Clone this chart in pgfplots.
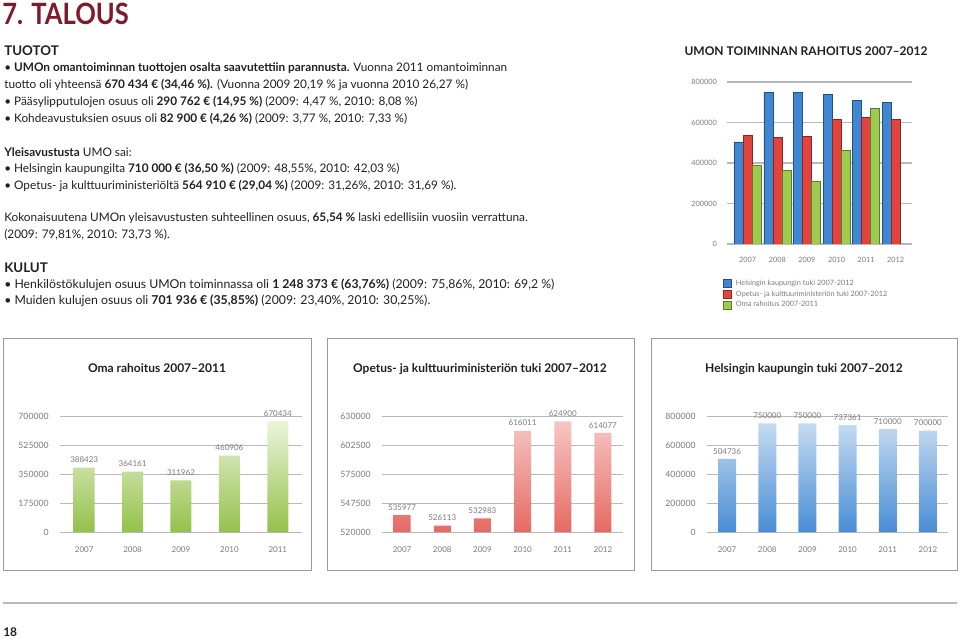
\documentclass[border=0pt]{standalone}
\usepackage{pgfplots}
\pgfplotsset{compat=1.18}
\usepackage{fontspec}
\setmainfont{Lato}
\definecolor{talous}{HTML}{7E1A2B}
\definecolor{txt}{HTML}{231F20}
\definecolor{ticktxt}{HTML}{7A7A7A}
\definecolor{gridc}{HTML}{B8B8B8}
\definecolor{boxc}{HTML}{9A9A9A}
\definecolor{hblue}{HTML}{3F87D2}
\definecolor{ored}{HTML}{E0443C}
\definecolor{ogreen}{HTML}{9CCB4F}
\newcommand\body{\fontsize{8.85}{11}\selectfont}
\pgfplotsset{
  smallchart/.style={
    scale only axis, height=87pt,
    axis lines*=left,
    y axis line style={draw=none},
    x axis line style={draw=gridc, line width=0.6pt},
    ymajorgrids, grid style={draw=gridc, line width=0.6pt},
    ytick style={draw=none}, xtick style={draw=none},
    xtick=data,
    scaled y ticks=false,
    /pgf/number format/assume math mode=true,
    /pgf/number format/fixed, /pgf/number format/1000 sep={},
    yticklabel style={font=\fontsize{6.5}{7}\selectfont, text=ticktxt, xshift=-5pt},
    xticklabel style={font=\fontsize{6}{7}\selectfont, text=ticktxt, yshift=-3pt},
    ybar, bar width=#1,
    point meta=explicit symbolic,
    nodes near coords,
    nodes near coords style={font=\fontsize{6}{7}\selectfont, text=ticktxt},
    extra x tick style={major tick length=2pt, tick style={draw=gridc}},
    extra x tick labels={},
  }
}
\begin{document}
\begin{tikzpicture}[x=0.75pt,y=-0.75pt]
\path[use as bounding box] (0,0) rectangle (960,639);
% ---------- text ----------
\node[anchor=base west, inner sep=0, text=talous, font=\fontsize{22}{24}\selectfont\bfseries] at (2,24) {\scalebox{0.87}[1]{7. TALOUS}};
\begin{scope}[every node/.style={anchor=base west, inner sep=0, text=txt, font=\body}]
\node[font=\fontsize{10}{12}\selectfont\bfseries] at (4,55) {TUOTOT};
\node at (4,71) {• \textbf{UMOn omantoiminnan tuottojen osalta saavutettiin parannusta.} Vuonna 2011 omantoiminnan};
\node at (4,88) {tuotto oli yhteensä \textbf{670 434 € (34,46 \%).} (Vuonna 2009 20,19 \% ja vuonna 2010 26,27 \%)};
\node at (4,105) {• Pääsylipputulojen osuus oli \textbf{290 762 € (14,95 \%)} (2009: 4,47 \%, 2010: 8,08 \%)};
\node at (4,122) {• Kohdeavustuksien osuus oli \textbf{82 900 € (4,26 \%)} (2009: 3,77 \%, 2010: 7,33 \%)};
\node at (4,156) {\textbf{Yleisavustusta} UMO sai:};
\node at (4,172) {• Helsingin kaupungilta \textbf{710 000 € (36,50 \%)} (2009: 48,55\%, 2010: 42,03 \%)};
\node at (4,189) {• Opetus- ja kulttuuriministeriöltä \textbf{564 910 € (29,04 \%)} (2009: 31,26\%, 2010: 31,69 \%).};
\node at (4,221) {Kokonaisuutena UMOn yleisavustusten suhteellinen osuus, \textbf{65,54 \%} laski edellisiin vuosiin verrattuna.};
\node at (4,238) {(2009: 79,81\%, 2010: 73,73 \%).};
\node[font=\fontsize{10}{12}\selectfont\bfseries] at (4,272) {KULUT};
\node[font=\fontsize{9.2}{11}\selectfont] at (4,288) {• Henkilöstökulujen osuus UMOn toiminnassa oli \textbf{1 248 373 € (63,76\%)} (2009: 75,86\%, 2010: 69,2 \%)};
\node[font=\fontsize{9.2}{11}\selectfont] at (4,304) {• Muiden kulujen osuus oli \textbf{701 936 € (35,85\%)} (2009: 23,40\%, 2010: 30,25\%).};
\node[font=\fontsize{9}{11}\selectfont\bfseries] at (3,636) {18};
\end{scope}
\node[anchor=base, inner sep=0, text=txt, font=\fontsize{9}{11}\selectfont\bfseries] at (806,55) {UMON TOIMINNAN RAHOITUS 2007–2012};
% ---------- boxes ----------
\draw[boxc, line width=0.7pt] (3,338) rectangle (311,570);
\draw[boxc, line width=0.7pt] (327,338) rectangle (634,570);
\draw[boxc, line width=0.7pt] (651,338) rectangle (957,570);
\draw[gridc, line width=1pt] (3,603) -- (957,603);
\begin{scope}[every node/.style={anchor=base, inner sep=0, text=txt, font=\fontsize{9}{11}\selectfont\bfseries}]
\node at (157,372) {Oma rahoitus 2007–2011};
\node at (480,372) {Opetus- ja kulttuuriministeriön tuki 2007–2012};
\node at (804,372) {Helsingin kaupungin tuki 2007–2012};
\end{scope}
\coordinate (T) at (727,82);
\coordinate (A) at (60,416);
\coordinate (B) at (382,416);
\coordinate (C) at (707,416);
% ---------- top chart ----------
\begin{axis}[at={(T)}, anchor=north west, scale only axis,
  width=138.75pt, height=121.5pt,
  xmin=-0.7, xmax=5.55, ymin=0, ymax=800000,
  axis line style={draw=none}, tick style={draw=none},
  ymajorgrids, grid style={draw=gridc, line width=1pt},
  ytick={0,200000,400000,600000,800000},
  scaled y ticks=false,
  /pgf/number format/assume math mode=true,
  /pgf/number format/fixed, /pgf/number format/1000 sep={},
  yticklabel style={font=\fontsize{5.5}{6}\selectfont, text=ticktxt, xshift=-4pt},
  xtick={0,1,2,3,4,5}, xticklabels={2007,2008,2009,2010,2011,2012},
  xticklabel style={font=\fontsize{5.5}{6}\selectfont, text=ticktxt, yshift=-2pt},
  ybar=0pt, bar width=6.75pt,
  legend style={at={(-0.025,-0.21)}, anchor=north west, draw=none, fill=none,
    font=\fontsize{5.5}{6}\selectfont, text=ticktxt, row sep=0.4pt, column sep=2.5pt,
    inner sep=0pt, nodes={inner sep=1.1pt}},
  legend cell align=left,
  legend image code/.code={\fill[#1] (0pt,-2.8pt) rectangle (6pt,2.8pt);},
]
\addplot[fill=hblue, draw=hblue!60!black] coordinates {(0,504736) (1,750000) (2,750000) (3,737361) (4,710000) (5,700000)};
\addplot[fill=ored, draw=ored!60!black] coordinates {(0,535977) (1,526113) (2,532983) (3,616011) (4,624900) (5,614077)};
\addplot[fill=ogreen, draw=ogreen!60!black] coordinates {(0,388423) (1,364161) (2,311962) (3,460906) (4,670434)};
\legend{Helsingin kaupungin tuki 2007-2012, Opetus- ja kulttuuriministeriön tuki 2007-2012, Oma rahoitus 2007-2011}
\end{axis}
% ---------- chart 1 ----------
\begin{axis}[at={(A)}, anchor=north west, smallchart=15.75pt, width=181.5pt,
  xmin=-0.5, xmax=4.5, ymin=0, ymax=700000,
  ytick={0,175000,350000,525000,700000},
  xticklabels={2007,2008,2009,2010,2011},
  extra x ticks={-0.5,0.5,1.5,2.5,3.5,4.5}]
\addplot[draw=none, top color=ogreen!20, bottom color=ogreen!95!black] coordinates {(0,388423) [388423] (1,364161) [364161] (2,311962) [311962] (3,460906) [460906] (4,670434) [670434]};
\end{axis}
% ---------- chart 2 ----------
\begin{axis}[at={(B)}, anchor=north west, smallchart=12.75pt, width=180.75pt,
  xmin=-0.5, xmax=5.5, ymin=520000, ymax=630000,
  ytick={520000,547500,575000,602500,630000},
  xticklabels={2007,2008,2009,2010,2011,2012},
  extra x ticks={-0.5,0.5,1.5,2.5,3.5,4.5,5.5}]
\addplot[draw=none, top color=ored!30, bottom color=ored!80] coordinates {(0,535977) [535977] (1,526113) [526113] (2,532983) [532983] (3,616011) [616011] (4,624900) [624900] (5,614077) [614077]};
\end{axis}
% ---------- chart 3 ----------
\begin{axis}[at={(C)}, anchor=north west, smallchart=13.5pt, width=180.75pt,
  xmin=-0.5, xmax=5.5, ymin=0, ymax=800000,
  ytick={0,200000,400000,600000,800000},
  xticklabels={2007,2008,2009,2010,2011,2012},
  extra x ticks={-0.5,0.5,1.5,2.5,3.5,4.5,5.5}]
\addplot[draw=none, top color=hblue!30, bottom color=hblue!95] coordinates {(0,504736) [504736] (1,750000) [750000] (2,750000) [750000] (3,737361) [737361] (4,710000) [710000] (5,700000) [700000]};
\end{axis}
\end{tikzpicture}
\end{document}
